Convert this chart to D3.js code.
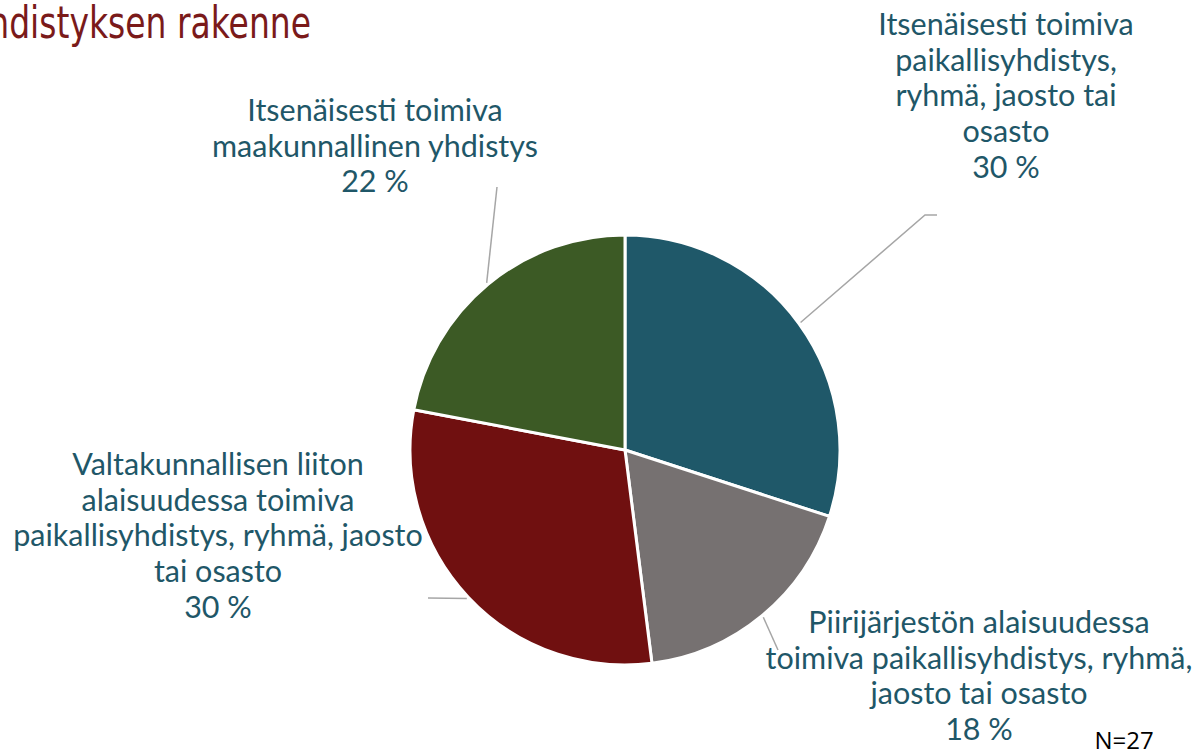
<!DOCTYPE html>
<html>
<head>
<meta charset="utf-8">
<script src="https://cdn.jsdelivr.net/npm/d3@7"></script>
<style>
  html, body { margin: 0; padding: 0; background: #fff; }
  .label { font-family: Lato, "Open Sans", sans-serif; font-size: 30.5px; fill: #1f5768; }
</style>
</head>
<body>
<div id="chart"></div>
<script>
/****************************************/
/*****  Data   *****/
/****************************************/
const categories = [
  "Itsenäisesti toimiva paikallisyhdistys, ryhmä, jaosto tai osasto",
  "Piirijärjestön alaisuudessa toimiva paikallisyhdistys, ryhmä, jaosto tai osasto",
  "Valtakunnallisen liiton alaisuudessa toimiva paikallisyhdistys, ryhmä, jaosto tai osasto",
  "Itsenäisesti toimiva maakunnallinen yhdistys"
];
const values = [30, 18, 30, 22];
// label lines as they wrap in the picture
const labelLines = [
  ["Itsenäisesti toimiva", "paikallisyhdistys,", "ryhmä, jaosto tai", "osasto"],
  ["Piirijärjestön alaisuudessa", "toimiva paikallisyhdistys, ryhmä,", "jaosto tai osasto"],
  ["Valtakunnallisen liiton", "alaisuudessa toimiva", "paikallisyhdistys, ryhmä, jaosto", "tai osasto"],
  ["Itsenäisesti toimiva", "maakunnallinen yhdistys"]
];
const sampleSize = 27;
const titleText = "Yhdistyksen rakenne";

/****************************************/
/*****  Layout   *****/
/****************************************/
const width = 1203;
const height = 755;
const cx = 625;
const cy = 450;
const radius = 215;
const lineHeight = 35.7;

// label anchor (centre x, first baseline) and leader elbow, per slice
const labelLayout = [
  { x: 1006, y: 35, elbow: [925, 215], end: [937, 215] },
  { x: 979, y: 633, elbow: [778, 650], end: null },
  { x: 218, y: 475, elbow: [428, 598], end: null },
  { x: 375, y: 121, elbow: [497, 187], end: null }
];

const color = d3.scaleOrdinal()
  .domain(categories)
  .range(["#1f5869", "#767171", "#701010", "#3c5a25"]);

const svg = d3.select('#chart')
  .append('svg')
    .attr('width', width)
    .attr('height', height)
    .attr('viewBox', [0, 0, width, height]);

// Title, cut off at the left edge as in the slide
svg.append('text')
    .attr('transform', 'translate(311, 38) scale(0.75, 1)')
    .attr('text-anchor', 'end')
    .attr('font-family', '"DejaVu Sans", sans-serif')
    .attr('font-size', 44)
    .attr('fill', '#7a1a1a')
    .text(titleText);

/****************************************/
/*****  Pie   *****/
/****************************************/
const pie = d3.pie().sort(null).value(d => d.value);
const arcs = pie(categories.map((c, i) => ({ category: c, value: values[i], index: i })));

const arc = d3.arc().innerRadius(0).outerRadius(radius);
const leaderArc = d3.arc().innerRadius(radius + 2).outerRadius(radius + 2);

const pieGroup = svg.append('g')
    .attr('transform', `translate(${cx}, ${cy})`);

pieGroup.selectAll('path')
  .data(arcs)
  .join('path')
    .attr('d', arc)
    .attr('fill', d => color(d.data.category))
    .attr('stroke', '#fff')
    .attr('stroke-width', 3)
    .attr('stroke-linejoin', 'round');

// Leader lines
pieGroup.selectAll('.leader')
  .data(arcs)
  .join('polyline')
    .attr('class', 'leader')
    .attr('fill', 'none')
    .attr('stroke', '#a6a6a6')
    .attr('stroke-width', 1.5)
    .attr('points', d => {
      const lay = labelLayout[d.index];
      const p0 = leaderArc.centroid(d);
      const pts = [p0, [lay.elbow[0] - cx, lay.elbow[1] - cy]];
      if (lay.end) pts.push([lay.end[0] - cx, lay.end[1] - cy]);
      return pts.map(p => p.join(',')).join(' ');
    });

/****************************************/
/*****  Labels   *****/
/****************************************/
const labels = svg.append('g')
  .selectAll('text')
  .data(arcs)
  .join('text')
    .attr('class', 'label')
    .attr('text-anchor', 'middle');

labels.each(function(d) {
  const lay = labelLayout[d.index];
  const lines = labelLines[d.index].concat([`${d.data.value} %`]);
  d3.select(this).selectAll('tspan')
    .data(lines)
    .join('tspan')
      .attr('x', lay.x)
      .attr('y', (l, i) => lay.y + i * lineHeight)
      .text(l => l);
});

// Sample size note
svg.append('text')
    .attr('x', 1124)
    .attr('y', 749)
    .attr('text-anchor', 'middle')
    .attr('font-family', '"Open Sans", sans-serif')
    .attr('font-size', 24)
    .attr('fill', '#000')
    .text(`N=${sampleSize}`);
</script>
</body>
</html>
